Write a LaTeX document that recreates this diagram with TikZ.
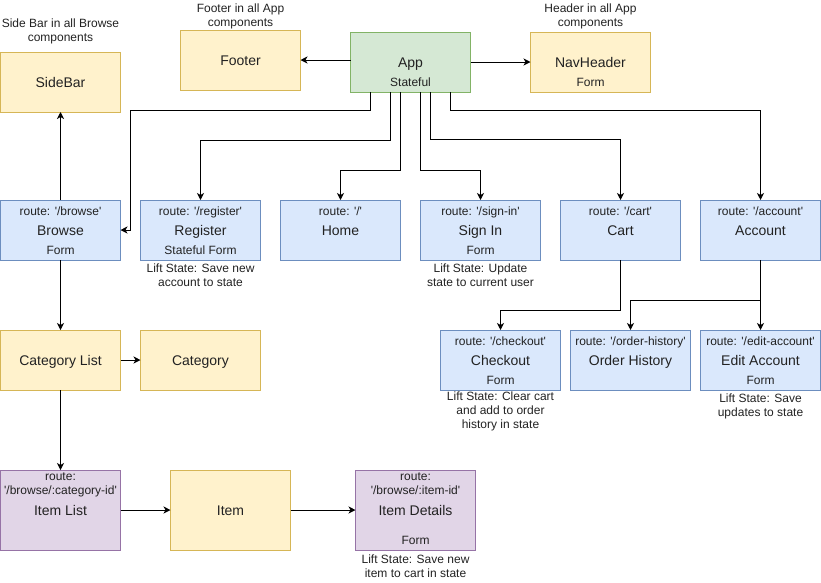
\documentclass[tikz,border=0pt]{standalone}
\usepackage{fontspec}
\setmainfont{Liberation Sans}[Ligatures=TeXOff]
\usetikzlibrary{positioning, arrows.meta}
\usepackage{xcolor}

\definecolor{yelfill}{HTML}{FFF2CC}
\definecolor{yeldraw}{HTML}{D6B656}
\definecolor{bluefill}{HTML}{DAE8FC}
\definecolor{bluedraw}{HTML}{6C8EBF}
\definecolor{greenfill}{HTML}{D5E8D4}
\definecolor{greendraw}{HTML}{82B366}
\definecolor{purpfill}{HTML}{E1D5E7}
\definecolor{purpdraw}{HTML}{9673A6}
\definecolor{ink}{HTML}{222222}

\newcommand{\notesize}{\fontsize{12}{14}\selectfont}
\newcommand{\titlesize}{\fontsize{14}{17}\selectfont}

\begin{document}
\begin{tikzpicture}[
        x=1pt, y=-1pt,
        font=\titlesize, text=ink,
        % Define styles for the nodes
        box/.style={rectangle, line width=1pt, minimum width=120pt, minimum height=60pt, inner sep=0pt, outer sep=0pt, text height=11pt, text depth=0pt},
        widget/.style={box, draw=yeldraw, fill=yelfill},
        page/.style={box, draw=bluedraw, fill=bluefill},
        root/.style={box, draw=greendraw, fill=greenfill},
        subpage/.style={box, draw=purpdraw, fill=purpfill, minimum height=80pt},
        route/.style={anchor=north, font=\notesize, inner sep=0pt, text height=9pt, text depth=2.5pt, yshift=-6pt},
        routes/.style={anchor=north, font=\notesize, align=center, inner sep=0pt, yshift=-3pt},
        kind/.style={anchor=south, font=\notesize, inner sep=0pt, text height=9pt, text depth=2.5pt, yshift=2.5pt},
        note/.style={font=\notesize, align=center, inner sep=1pt},
        myarrow/.style={-{Stealth[length=7pt, width=7pt, inset=2pt]}, line width=1pt}
    ]
        \useasboundingbox (-0.5,0) rectangle (820.5,582);

        % --- Nodes ---
        \node[root, label={[kind]south:Stateful}] (app) at (410,62) {App};
        \node[widget] (footer) at (240,60) {Footer};
        \node[widget, right=60pt of app, label={[kind]south:Form}] (navheader) {NavHeader};
        \node[widget] (sidebar) at (60,82) {SideBar};

        \node[note, above=6.5pt of sidebar] (sidebarnote) {Side Bar in all Browse\\components};
        \node[note, above=0pt of footer] (footernote) {Footer in all App\\components};
        \node[note, above=2pt of navheader] (headernote) {Header in all App\\components};

        % routes off App
        \node[page, label={[route]north:{route: '/browse'}}, label={[kind]south:Form}] (browse) at (60,230) {Browse};
        \node[page, right=20pt of browse, label={[route]north:{route: '/register'}}, label={[kind]south:Stateful Form}] (register) {Register};
        \node[page, right=20pt of register, label={[route]north:{route: '/'}}] (home) {Home};
        \node[page, right=20pt of home, label={[route]north:{route: '/sign-in'}}, label={[kind]south:Form}] (signin) {Sign In};
        \node[page, right=20pt of signin, label={[route]north:{route: '/cart'}}] (cart) {Cart};
        \node[page, right=20pt of cart, label={[route]north:{route: '/account'}}] (account) {Account};

        \node[note, below=3pt of register] (registernote) {Lift State: Save new\\account to state};
        \node[note, below=3pt of signin] (signinnote) {Lift State: Update\\state to current user};

        % cart and account children
        \node[page, below=70pt of account, label={[route]north:{route: '/edit-account'}}, label={[kind]south:Form}] (editacct) {Edit Account};
        \node[page, left=10pt of editacct, label={[route]north:{route: '/order-history'}}] (orders) {Order History};
        \node[page, left=10pt of orders, label={[route]north:{route: '/checkout'}}, label={[kind]south:Form}] (checkout) {Checkout};

        \node[note, below=0.5pt of checkout] (checkoutnote) {Lift State: Clear cart\\and add to order\\history in state};
        \node[note, below=3pt of editacct] (editnote) {Lift State: Save\\updates to state};

        % browse branch
        \node[widget, below=70pt of browse] (catlist) {Category List};
        \node[widget, right=20pt of catlist] (category) {Category};
        \node[subpage, below=80pt of catlist, label={[routes]north:{route:\\'/browse/:category-id'}}] (itemlist) {Item List};
        \node[widget, right=50pt of itemlist, minimum height=80pt] (item) {Item};
        \node[subpage, right=65pt of item, label={[routes]north:{route:\\'/browse/:item-id'}}, label={[kind]south:Form}] (details) {Item Details};

        \node[note, below=4pt of details] (detailsnote) {Lift State: Save new\\item to cart in state};

        % --- Edges ---
        \draw[myarrow] (app.west |- footer) -- (footer);
        \draw[myarrow] (app) -- (navheader);

        % 1. App to routes
        \draw[myarrow] ([xshift=20pt]app.south west) -- ++(0,18) -| ([xshift=10pt]browse.east) -- (browse.east);
        \draw[myarrow] ([xshift=40pt]app.south west) -- ++(0,48) -| (register.north);
        \draw[myarrow] ([xshift=50pt]app.south west) -- ++(0,78) -| (home.north);
        \draw[myarrow] ([xshift=70pt]app.south west) -- ++(0,78) -| (signin.north);
        \draw[myarrow] ([xshift=80pt]app.south west) -- ++(0,47) -| (cart.north);
        \draw[myarrow] ([xshift=100pt]app.south west) -- ++(0,18) -| (account.north);

        % 2. Browse branch
        \draw[myarrow] (browse) -- (sidebar);
        \draw[myarrow] (browse) -- (catlist);
        \draw[myarrow] (catlist) -- (category);
        \draw[myarrow] (catlist) -- (itemlist);
        \draw[myarrow] (itemlist) -- (item);
        \draw[myarrow] (item) -- (details);

        % 3. Cart and account
        \draw[myarrow] (cart.south) -- ++(0,50) -| (checkout.north);
        \draw[myarrow] (account.south) -- ++(0,40) -| (orders.north);
        \draw[myarrow] (account) -- (editacct);

    \end{tikzpicture}
\end{document}
